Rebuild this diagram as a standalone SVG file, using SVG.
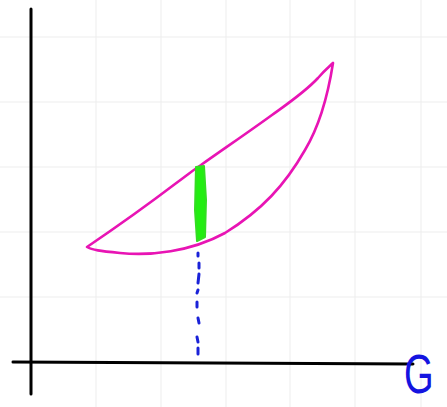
<svg xmlns="http://www.w3.org/2000/svg" width="447" height="407" viewBox="0 0 447 407">
<style>
.grid{stroke:#ededed;stroke-width:1;fill:none}
.axis{stroke:#000;stroke-width:3;stroke-linecap:round;fill:none}
.lens{stroke:#e814b4;stroke-width:2.6;fill:none;stroke-linejoin:round;stroke-linecap:round}
.dash{stroke:#1a22d8;stroke-width:3;stroke-linecap:round;fill:none}
.bar{fill:#22ee11;stroke:#33dd22;stroke-width:2;stroke-linejoin:round}
.lbl{font-family:"Liberation Sans",Arial,sans-serif;font-size:56px;fill:#1414e0}
</style>
<rect width="447" height="407" fill="#fff"/>
<g id="grid" class="grid">
<path d="M96 0V407M161 0V407M226 0V407M290 0V407M355 0V407M421 0V407"/>
<path d="M0 37H447M0 102H447M0 167H447M0 232H447M0 297H447"/>
</g>
<g id="axes">
<path class="axis" d="M31 9L31 394"/>
<path class="axis" d="M13 362L413 364"/>
</g>
<g id="lens">
<path class="lens" d="M87 247C115 228 150 203 175 184C190 173 196 168 201 165C225 148 250 131 272 115C290 102 305 92 318 78C325 70 330 66 333 63C328 95 320 125 305 150C285 185 262 210 225 233C190 252 150 256 120 253C100 251 92 250 87 247Z"/>
</g>
<g id="bar">
<path class="bar" d="M196 167L204 166L206 200L205 237L197 241L195 210Z"/>
</g>
<g id="connectors">
<path class="dash" d="M198 253L198 256M199 263L199 268M199 274L198 283M198 290L197 293M197 302L197 307M198 318L199 323M197 337L198 342M198 348L198 354"/>
</g>
<g id="label">
<text class="lbl" transform="translate(404,393) scale(0.68,1)">G</text>
</g>
</svg>
